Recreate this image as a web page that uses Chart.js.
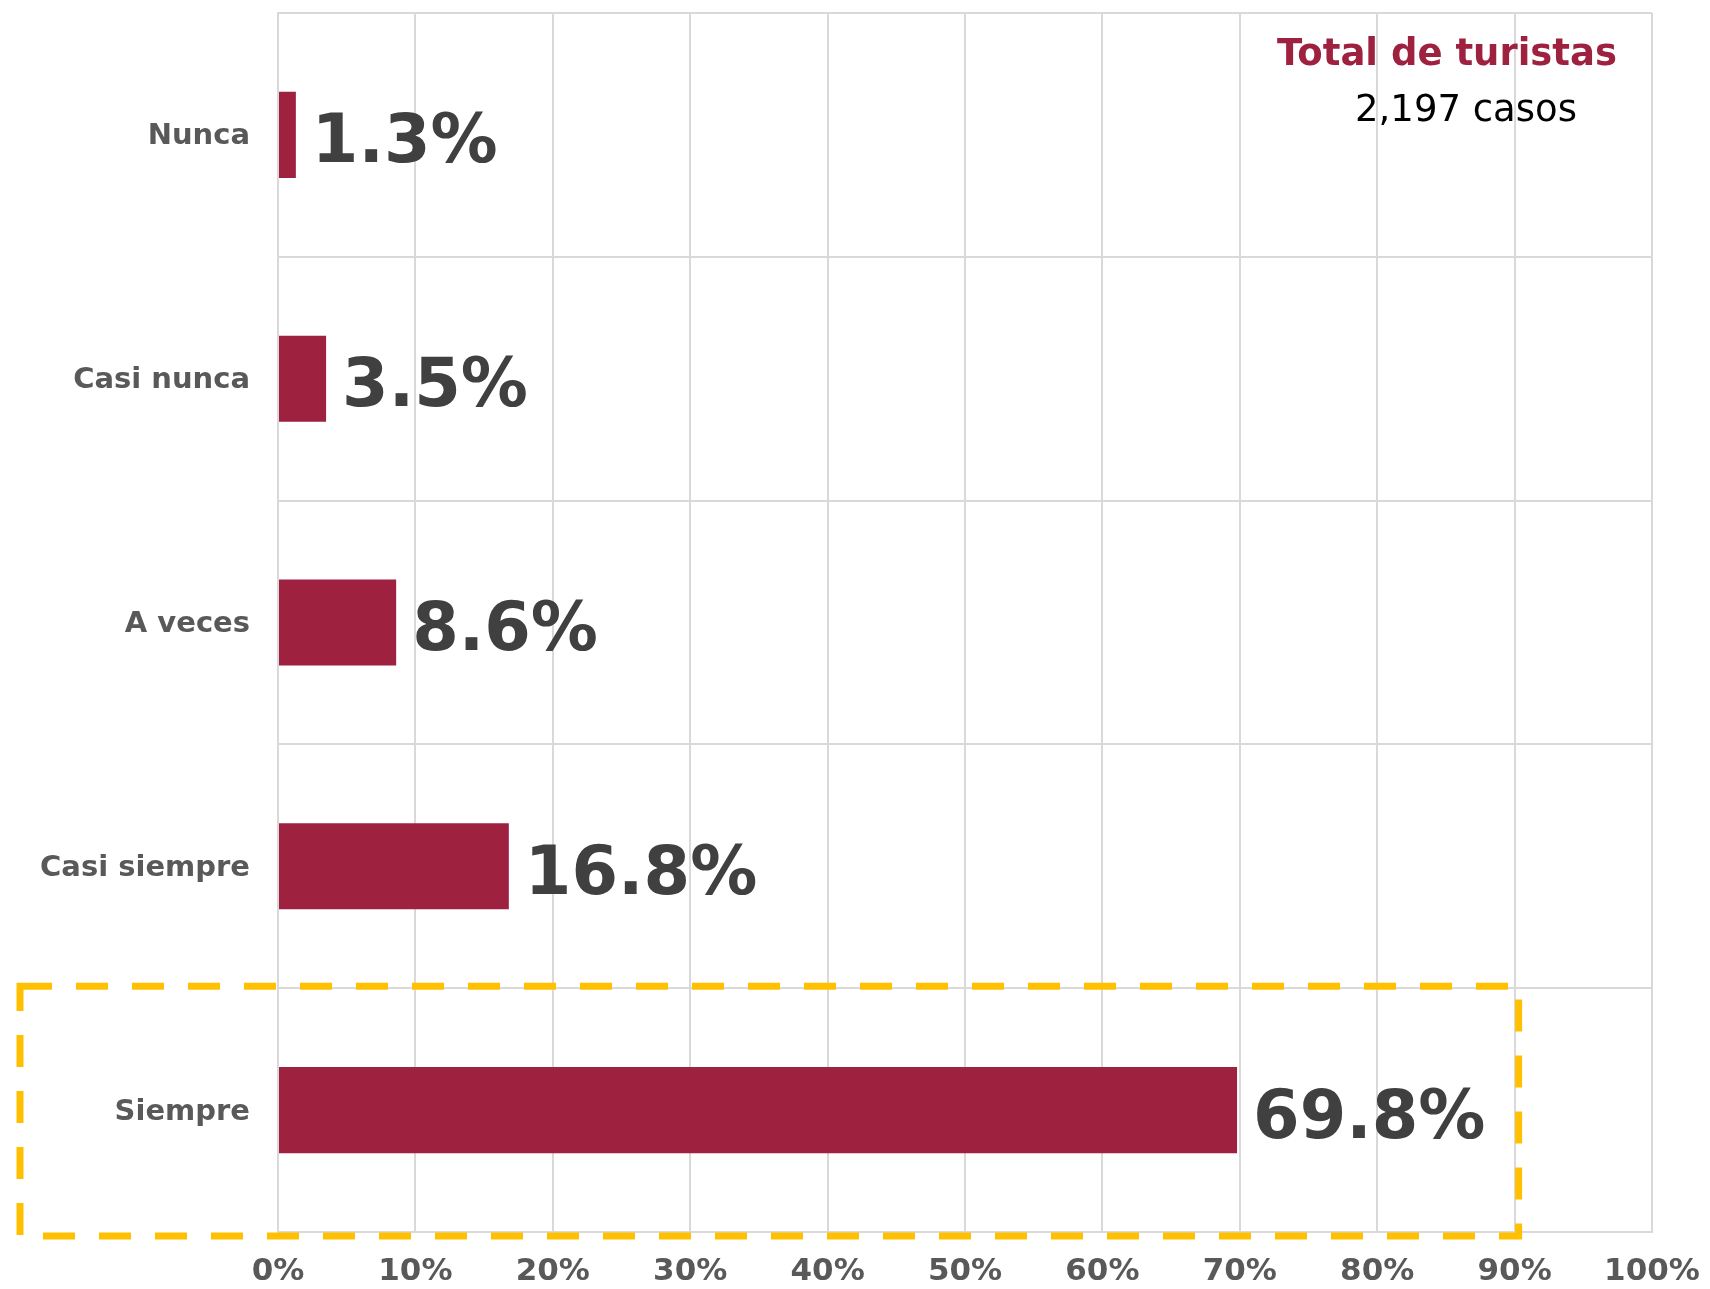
<!DOCTYPE html>
<html>
<head>
<meta charset="utf-8">
<script src="https://cdn.jsdelivr.net/npm/chart.js@4/dist/chart.umd.min.js"></script>
<style>
  body { margin: 0; background: #fff; }
  #wrap { width: 1710px; height: 1289px; position: relative; }
</style>
</head>
<body>
<div id="wrap"><canvas id="grafica"></canvas></div>
<script>
const categorias = ['Nunca', 'Casi nunca', 'A veces', 'Casi siempre', 'Siempre'];
const porcentajes = [1.3, 3.5, 8.6, 16.8, 69.8];
const ticksX = [0, 10, 20, 30, 40, 50, 60, 70, 80, 90, 100];
const titulo = 'Total de turistas';
const subtitulo = '2,197 casos';

const FUENTE = "'DejaVu Sans', Verdana, sans-serif";
const VINO = '#9E2140';
const GRIS = '#D9D9D9';

// etiquetas grandes al final de cada barra
const etiquetas = {
  id: 'etiquetas',
  afterDatasetsDraw(chart) {
    const ctx = chart.ctx;
    const meta = chart.getDatasetMeta(0);
    ctx.save();
    ctx.font = 'bold 67px ' + FUENTE;
    ctx.fillStyle = '#404040';
    ctx.textAlign = 'left';
    ctx.textBaseline = 'middle';
    meta.data.forEach((bar, i) => {
      ctx.fillText(porcentajes[i].toFixed(1) + '%', bar.x + 16, bar.y + 10);
    });
    ctx.restore();
  }
};

// recuadro punteado y texto de total
const extras = {
  id: 'extras',
  afterDraw(chart) {
    const ctx = chart.ctx;
    const x = chart.scales.x, y = chart.scales.y;
    ctx.save();
    ctx.strokeStyle = '#FFC000';
    ctx.lineWidth = 7;
    ctx.setLineDash([32, 24]);
    const top = y.getPixelForValue(3.5) - 2;
    const right = x.getPixelForValue(90) + 4;
    ctx.strokeRect(20, top, right - 20, y.bottom + 4 - top);
    ctx.setLineDash([]);

    ctx.textAlign = 'center';
    ctx.textBaseline = 'middle';
    ctx.font = 'bold 37px ' + FUENTE;
    ctx.fillStyle = VINO;
    ctx.fillText(titulo, 1447, 55);
    ctx.font = '37px ' + FUENTE;
    ctx.fillStyle = '#000';
    ctx.fillText(subtitulo, 1466, 111);
    ctx.restore();
  }
};

new Chart(document.getElementById('grafica'), {
  type: 'bar',
  data: {
    labels: categorias,
    datasets: [{
      data: porcentajes,
      backgroundColor: VINO,
      borderWidth: 0,
      barPercentage: 0.353,
      categoryPercentage: 1
    }]
  },
  options: {
    indexAxis: 'y',
    responsive: true,
    maintainAspectRatio: false,
    animation: false,
    layout: { padding: { top: 13, right: 58, bottom: 0, left: 0 } },
    plugins: {
      legend: { display: false },
      tooltip: { enabled: false }
    },
    scales: {
      x: {
        min: 0,
        max: 100,
        afterBuildTicks(scale) { scale.ticks = ticksX.map(v => ({ value: v })); },
        afterFit(scale) {
          scale.height = 57;
          scale.paddingLeft = 0;
          scale.paddingRight = 0;
        },
        grid: { color: GRIS, lineWidth: 2, drawTicks: false },
        border: { color: GRIS, width: 2 },
        ticks: {
          padding: 21,
          color: '#595959',
          font: { family: FUENTE, size: 31, weight: 'bold' },
          callback: v => v + '%'
        }
      },
      y: {
        afterFit(scale) {
          scale.width = 278;
          scale.paddingTop = 0;
          scale.paddingBottom = 0;
        },
        grid: { color: GRIS, lineWidth: 2, offset: true, drawTicks: false },
        border: { color: GRIS, width: 2 },
        ticks: {
          padding: 28,
          labelOffset: 2,
          color: '#595959',
          font: { family: FUENTE, size: 29, weight: 'bold' }
        }
      }
    }
  },
  plugins: [etiquetas, extras]
});
</script>
</body>
</html>
